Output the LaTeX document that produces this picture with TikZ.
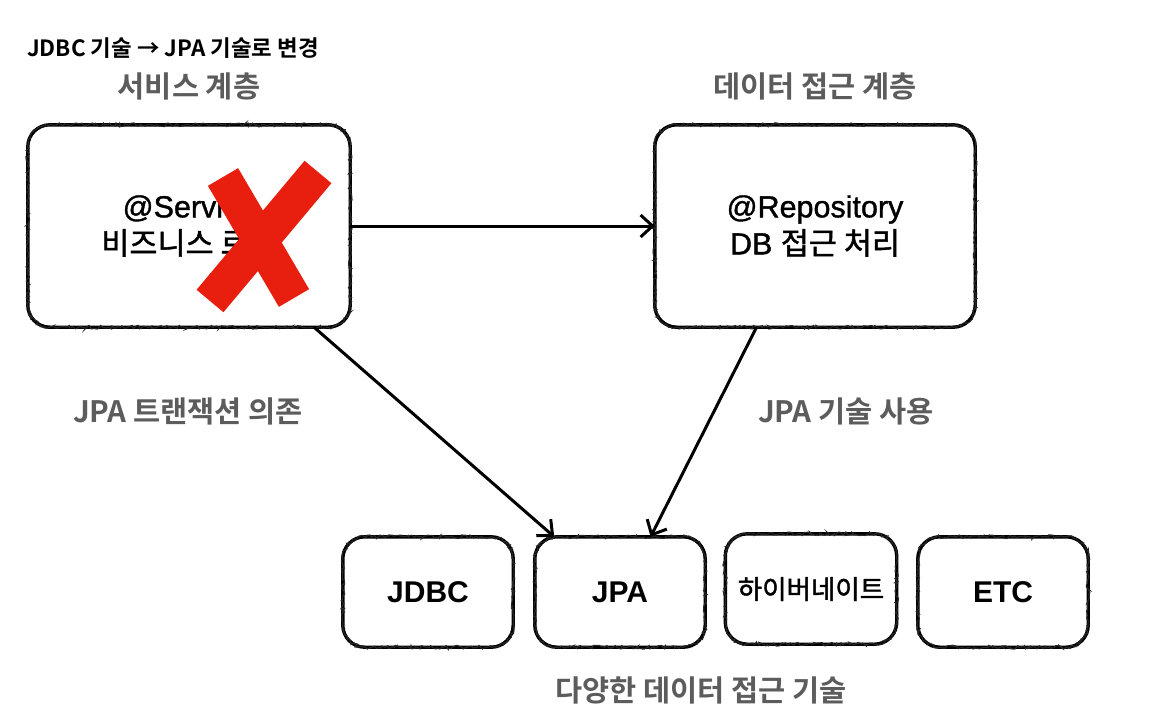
\documentclass[tikz,border=0pt]{standalone}
\usepackage{fontspec}
\setmainfont{Liberation Sans}
\newfontfamily\kr{Noto Sans CJK KR}
\newfontfamily\krm[FakeBold=1.5]{Noto Sans CJK KR}
\newfontfamily\latm[FakeBold=1.2]{Liberation Sans}
\newfontfamily\krb{Noto Sans CJK KR Bold}
\usetikzlibrary{arrows.meta,decorations.pathmorphing,calc}
\definecolor{lblgray}{RGB}{92,92,92}
\definecolor{xred}{RGB}{232,30,14}
\tikzset{
  boxnode/.style={align=center, inner sep=0pt},
  corestroke/.style={draw=black, line width=3.4pt, rounded corners=22pt},
  ragstroke/.style={draw=black!85, line width=1.2pt,
    decorate, decoration={random steps, segment length=2pt, amplitude=1.8pt}},
  biglbl/.style={text=lblgray, font=\krb\fontsize{29.5}{33}\selectfont},
  conn/.style={draw=black, line width=3pt, arrows={-Straight Barb[length=12pt,width=22pt,line width=3pt]}},
  boxtext/.style={font=\latm\fontsize{30.5}{37}\selectfont},
  smalltext/.style={font=\bfseries\fontsize{30}{34}\selectfont}
}
\newcommand\chalkborder[1]{%
  \draw[corestroke] (#1.north west) rectangle (#1.south east);
  \draw[ragstroke]
    ([xshift=22pt]#1.north west) -- ([xshift=-22pt]#1.north east)
    arc[start angle=90,end angle=0,radius=22pt]
    -- ([yshift=22pt]#1.south east)
    arc[start angle=0,end angle=-90,radius=22pt]
    -- ([xshift=22pt]#1.south west)
    arc[start angle=-90,end angle=-180,radius=22pt]
    -- ([yshift=-22pt]#1.north west)
    arc[start angle=180,end angle=90,radius=22pt] -- cycle;
}
\pgfmathsetseed{7}
\begin{document}
\begin{tikzpicture}[x=1pt,y=-1pt]
\useasboundingbox (0,0) rectangle (1168,721);
% title
\node[anchor=west, inner sep=0pt, font=\krb\fontsize{22.4}{25}\selectfont] (title) at (27,48) {JDBC 기술 → JPA 기술로 변경};
% layer labels
\node[biglbl] (svclbl) at (189,86) {서비스 계층};
\node[biglbl] (repolbl) at (815,86) {데이터 접근 계층};
% main boxes
\node[boxnode, minimum width=322pt, minimum height=202pt, boxtext] (svc) at (189,226)
  {@Service\\{\krm 비즈니스 로직}};
\node[boxnode, minimum width=320pt, minimum height=202pt, boxtext] (repo) at (815,226)
  {@Repository\\DB {\krm 접근 처리}};
% bottom boxes
\node[boxnode, minimum width=170pt, minimum height=110pt, smalltext] (jdbc) at (428,592) {JDBC};
\node[boxnode, minimum width=170pt, minimum height=110pt, smalltext] (jpa) at (620,592) {JPA};
\node[boxnode, minimum width=171pt, minimum height=110pt, font=\krm\fontsize{26.5}{30}\selectfont] (hib) at (811,589) {하이버네이트};
\node[boxnode, minimum width=170pt, minimum height=110pt, smalltext] (etc) at (1003,592) {ETC};
\chalkborder{svc}
\chalkborder{repo}
\chalkborder{jdbc}
\chalkborder{jpa}
\chalkborder{hib}
\chalkborder{etc}
% red cross
\coordinate (xa1) at (223,177);
\coordinate (xa2) at (294,298);
\coordinate (xb1) at (318,172);
\coordinate (xb2) at (210,301);
\draw[xred, line width=35pt] (xa1) -- (xa2);
\draw[xred, line width=35pt] (xb1) -- (xb2);
% connectors
\draw[conn] (svc) -- (repo);
\draw[conn] (svc.-39) -- (jpa.140);
\draw[conn] (repo.240) -- (jpa.61);
% connector labels
\node[biglbl] (lbl1) at (188,411) {JPA 트랜잭션 의존};
\node[biglbl] (lbl2) at (846,411) {JPA 기술 사용};
\node[biglbl] (lbl3) at (701,690) {다양한 데이터 접근 기술};
\end{tikzpicture}
\end{document}
